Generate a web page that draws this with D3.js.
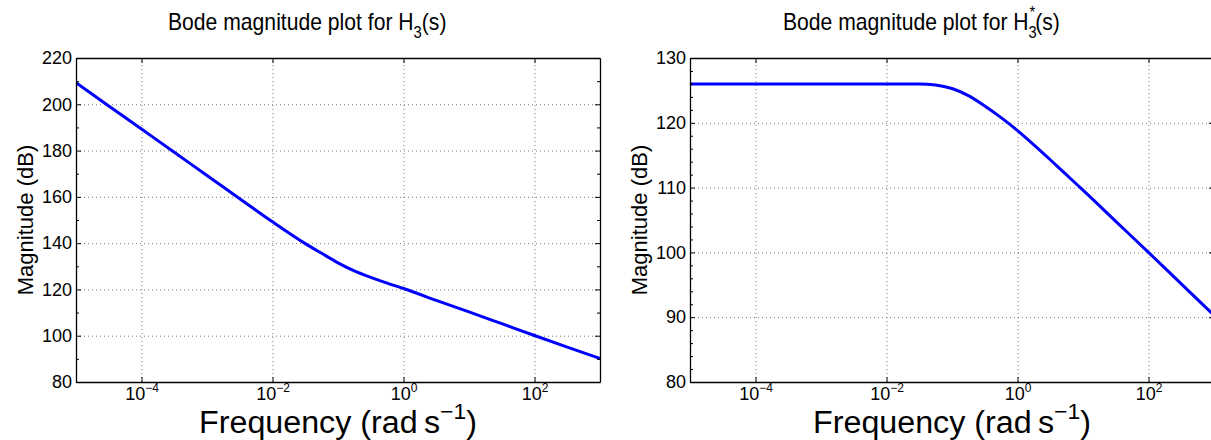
<!DOCTYPE html>
<html><head><meta charset="utf-8">
<script src="https://cdn.jsdelivr.net/npm/d3@7"></script>
<style>
body{margin:0;background:#fff;}
svg text{font-family:"Liberation Sans",Arial,Helvetica,sans-serif;fill:#000;}
</style>
</head><body>
<svg id="chart" width="1211" height="440"></svg>
<script>
// ---- data (frequency as log10 of rad/s, magnitude in dB) ----
const freqExpH3 = [-5,-4.5,-4,-3.5,-3,-2.5,-2,-1.5,-1.25,-1,-0.75,-0.5,-0.25,0,0.5,1,1.5,2,2.5,3];
const magH3     = [209.3,199.3,189.3,179.3,169.2,159.2,149.2,139.8,135.6,131.5,128.0,125.2,122.7,120.4,115.3,110.3,105.2,100.1,95.1,90.2];
const freqExpH3s = [-5,-4,-3,-2,-1.5,-1.25,-1,-0.75,-0.5,-0.25,0,0.25,0.5,0.75,1,1.5,2,2.5,3];
const magH3s     = [126.0,126.0,126.0,126.0,126.0,125.85,125.3,124.2,122.6,120.8,118.8,116.6,114.3,111.95,109.6,104.8,100.0,95.15,90.3];
const xTickExps = [-4,-2,0,2];
const yTicksH3  = [80,100,120,140,160,180,200,220];
const yTicksH3s = [80,90,100,110,120,130];
const yMinorH3  = [90,110,130,150,170,190,210];
const yMinorH3s = [82,84,86,88,92,94,96,98,102,104,106,108,112,114,116,118,122,124,126,128];

const svg = d3.select("#chart");
const FONT_TICK = 18, FONT_TITLE = 23, FONT_XLAB = 31, FONT_YLAB = 22;

function drawPanel(p, idx){
  const x = d3.scaleLog().domain([1e-5, 1e3]).range([p.x0, p.x1]);
  const y = d3.scaleLinear().domain(p.yDomain).range([p.y1, p.y0]);
  const g = svg.append("g");
  const xTickVals = xTickExps.map(e => Math.pow(10, e));
  const h = p.y1 - p.y0, w = p.x1 - p.x0;

  // dotted grid through axes
  const gx = g.append("g").attr("transform", `translate(0,${p.y1})`)
    .call(d3.axisBottom(x).tickValues(xTickVals).tickSize(-h).tickFormat(""));
  gx.select(".domain").remove();
  gx.selectAll("line").attr("stroke", "#777").attr("stroke-width", 1).attr("stroke-dasharray", "1,3");
  const yGridVals = p.yTicks.filter(v => v > p.yDomain[0] && v < p.yDomain[1]);
  const gy = g.append("g").attr("transform", `translate(${p.x0},0)`)
    .call(d3.axisRight(y).tickValues(yGridVals).tickSize(w).tickFormat(""));
  gy.select(".domain").remove();
  gy.selectAll("line").attr("stroke", "#777").attr("stroke-width", 1).attr("stroke-dasharray", "1,3");

  // curve
  const clipId = "clip" + idx;
  svg.append("defs").append("clipPath").attr("id", clipId)
    .append("rect").attr("x", p.x0).attr("y", p.y0 - 2).attr("width", w).attr("height", h + 4);
  const line = d3.line()
    .x((d,i) => x(Math.pow(10, p.exps[i])))
    .y(d => y(d))
    .curve(d3.curveMonotoneX);
  g.append("path").datum(p.mags).attr("clip-path", `url(#${clipId})`)
    .attr("fill", "none").attr("stroke", "#0000ff").attr("stroke-width", 3)
    .attr("stroke-linejoin", "round").attr("d", line);

  const styleAxis = sel => {
    sel.select(".domain").attr("stroke", "#000").attr("stroke-width", 1.3);
    sel.selectAll(".tick line").attr("stroke", "#000").attr("stroke-width", 1);
  };
  // minor y ticks (inward, both sides)
  g.append("g").attr("transform", `translate(${p.x0},0)`)
    .call(d3.axisLeft(y).tickValues(p.yMinor).tickSize(-3).tickFormat("")).call(styleAxis)
    .select(".domain").remove();
  g.append("g").attr("transform", `translate(${p.x1},0)`)
    .call(d3.axisRight(y).tickValues(p.yMinor).tickSize(-3).tickFormat("")).call(styleAxis)
    .select(".domain").remove();

  // bottom axis with 10^n labels
  const ax = g.append("g").attr("transform", `translate(0,${p.y1})`)
    .call(d3.axisBottom(x).tickValues(xTickVals).tickSize(-5).tickSizeOuter(0))
    .call(styleAxis);
  ax.selectAll(".tick text").each(function(d){
    const t = d3.select(this);
    const e = Math.round(Math.log10(d));
    t.text(null).attr("font-size", FONT_TICK).attr("dy", null).attr("y", 18)
      .attr("text-anchor", "middle").attr("font-family", null);
    t.append("tspan").text("10");
    t.append("tspan").attr("dy", -8).attr("font-size", 12).text(e < 0 ? "\u2212" + (-e) : String(e));
  });
  g.append("g").attr("transform", `translate(0,${p.y0})`)
    .call(d3.axisTop(x).tickValues(xTickVals).tickSize(-5).tickSizeOuter(0).tickFormat(""))
    .call(styleAxis);
  const ay = g.append("g").attr("transform", `translate(${p.x0},0)`)
    .call(d3.axisLeft(y).tickValues(p.yTicks).tickSize(-5).tickSizeOuter(0))
    .call(styleAxis);
  ay.selectAll(".tick text").attr("font-size", FONT_TICK).attr("font-family", null).attr("x", -4);
  g.append("g").attr("transform", `translate(${p.x1},0)`)
    .call(d3.axisRight(y).tickValues(p.yTicks).tickSize(-5).tickSizeOuter(0).tickFormat(""))
    .call(styleAxis);

  // title (narrow, tall glyphs as in the reference)
  const tt = svg.append("text").attr("transform", `translate(${p.titleX},30) scale(0.92,1)`)
    .attr("text-anchor", "start").attr("font-size", FONT_TITLE);
  tt.append("tspan").text("Bode magnitude plot for H");
  tt.append("tspan").attr("dy", 8).attr("font-size", 16).text("3");
  if (p.star) {
    tt.append("tspan").attr("dx", -8).attr("dy", -20).attr("font-size", 16).text("*");
    tt.append("tspan").attr("dy", 12).text("(s)");
  } else {
    tt.append("tspan").attr("dy", -8).text("(s)");
  }

  // x label
  const xl = svg.append("text").attr("transform", `translate(${(p.x0 + p.x1) / 2},433) scale(1.04,1)`)
    .attr("text-anchor", "middle").attr("font-size", FONT_XLAB);
  xl.append("tspan").text("Frequency (rad\u2009s");
  xl.append("tspan").attr("dy", -14).attr("font-size", 22).text("\u22121");
  xl.append("tspan").attr("dy", 14).text(")");

  // y label
  svg.append("text")
    .attr("transform", `translate(${p.ylabX},${(p.y0 + p.y1) / 2}) rotate(-90)`)
    .attr("text-anchor", "middle").attr("font-size", FONT_YLAB).text("Magnitude (dB)");
}

const panels = [
  {x0:76, x1:600, y0:58, y1:382, yDomain:[80,220], yTicks:yTicksH3, yMinor:yMinorH3,
   exps:freqExpH3, mags:magH3, star:false, ylabX:33, titleX:168},
  {x0:690, x1:1214, y0:58, y1:382, yDomain:[80,130], yTicks:yTicksH3s, yMinor:yMinorH3s,
   exps:freqExpH3s, mags:magH3s, star:true, ylabX:647, titleX:783}
];
panels.forEach(drawPanel);
</script>
</body></html>
